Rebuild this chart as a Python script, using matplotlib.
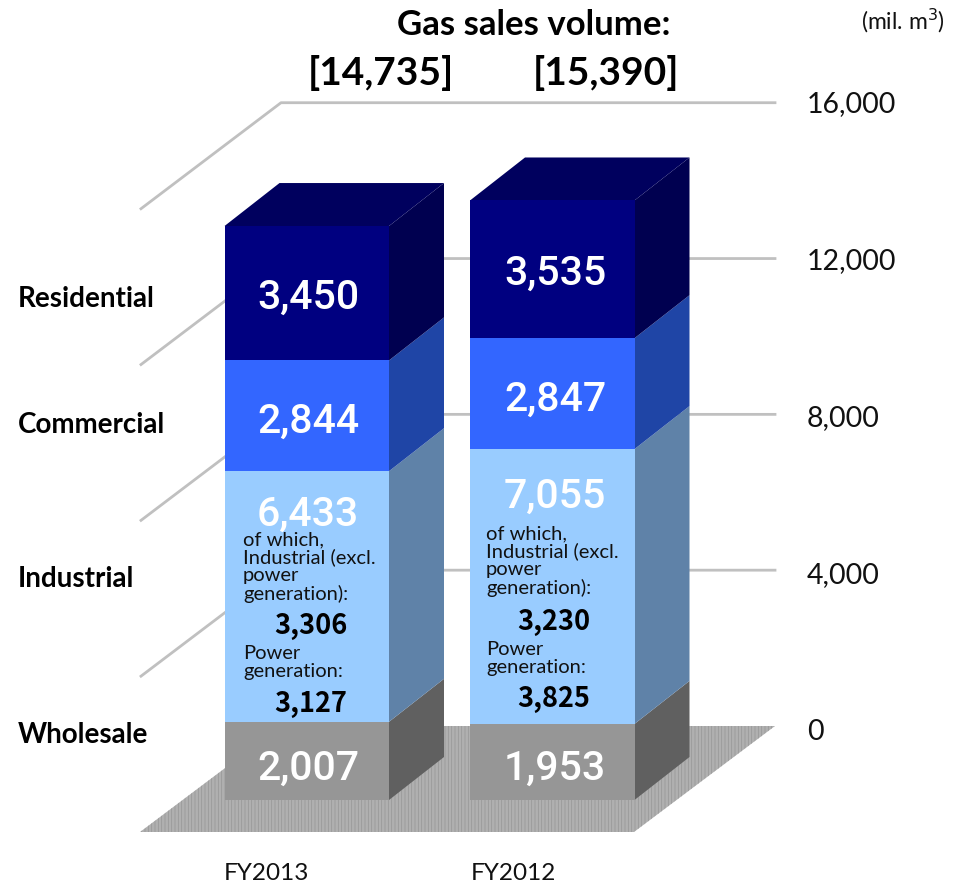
import matplotlib
matplotlib.use('Agg')
import matplotlib.pyplot as plt
import numpy as np

years = ['FY2013', 'FY2012']
segments = ['Wholesale', 'Industrial', 'Commercial', 'Residential']
wholesale = [2007, 1953]
industrial = [6433, 7055]
commercial = [2844, 2847]
residential = [3450, 3535]
industrial_excl = [3306, 3230]
power_gen = [3127, 3825]
totals = [14735, 15390]
ticks = [0, 4000, 8000, 12000, 16000]

front_colors = ['#969696', '#99CCFF', '#3366FF', '#000080']
side_colors = ['#606060', '#5F82A8', '#1F45A6', '#000050']
top_color = '#00005E'

W, H = 959, 885
base_px = 800
px_per_unit = 574 / 14735

plt.rcParams['font.family'] = ['Lato', 'DejaVu Sans']
plt.rcParams['hatch.linewidth'] = 0.5
fig = plt.figure(figsize=(W / 100, H / 100), dpi=100)
ax = fig.add_axes([0, 0, 1, 1])
ax.set_xlim(0, W)
ax.set_ylim(-(H - base_px) / px_per_unit, base_px / px_per_unit)
ax.axis('off')


def lift(px):
    return px / px_per_unit


def put(x, y, s, **kw):
    # text placed by pixel position from top left
    fig.text(x / W, 1 - y / H, s, **kw)


# floor and back grid
grid_lift = lift(74)
floor_front = -lift(32)
ax.fill([140, 634, 775, 281], [floor_front, floor_front, grid_lift, grid_lift],
        facecolor='#b0b0b0', edgecolor='#969696', hatch='|||||', lw=0, zorder=1)
for t in ticks[1:]:
    y = t + grid_lift
    ax.plot([141, 281, 775], [y - lift(106), y, y], color='#c0c0c0', lw=2, zorder=2)

# stacked boxes
bar_left = [224.5, 470]
bar_w = 164.5
depth_x = 55
depth_y = lift(43)
for i, left in enumerate(bar_left):
    vals = [wholesale[i], industrial[i], commercial[i], residential[i]]
    bottom = 0
    for v, fc, sc in zip(vals, front_colors, side_colors):
        ax.bar(left, v, bar_w, bottom=bottom, align='edge', color=fc, lw=0, zorder=4)
        r = left + bar_w
        ax.fill([r, r + depth_x, r + depth_x, r],
                [bottom, bottom + depth_y, bottom + v + depth_y, bottom + v],
                color=sc, lw=0, zorder=3)
        bottom += v
    ax.fill([left, left + bar_w, left + bar_w + depth_x, left + depth_x],
            [bottom, bottom, bottom + depth_y, bottom + depth_y],
            color=top_color, lw=0, zorder=3)

# white value labels
val_kw = dict(color='white', ha='center', va='center', fontsize=29.5, weight='medium',
              family=['Roboto', 'DejaVu Sans'], zorder=6)
label_y = [[769, 515, 422, 298], [769, 497, 400, 274]]
label_x = [308, 555]
for i in range(2):
    vals = [wholesale[i], industrial[i], commercial[i], residential[i]]
    for v, y in zip(vals, label_y[i]):
        put(label_x[i], y, f'{v:,}', **val_kw)

# breakdown inside the Industrial segment
note_x = [243, 486]
note_y = [531, 525]
power_y = [645, 641]
num_x = [311, 554]
excl_y = [626, 622]
power_num_y = [704, 699]
for i in range(2):
    put(note_x[i], note_y[i], 'of which,\nIndustrial (excl.\npower\ngeneration):', fontsize=14.5,
        color='#111111', va='top', ha='left', linespacing=1.05)
    put(note_x[i], power_y[i], 'Power\ngeneration:', fontsize=14.5,
        color='#111111', va='top', ha='left', linespacing=1.05)
    put(num_x[i], excl_y[i], f'{industrial_excl[i]:,}', fontsize=19.5, weight='bold',
        color='black', ha='center', va='center', family=['Noto Sans CJK JP', 'DejaVu Sans'])
    put(num_x[i], power_num_y[i], f'{power_gen[i]:,}', fontsize=19.5, weight='bold',
        color='black', ha='center', va='center', family=['Noto Sans CJK JP', 'DejaVu Sans'])

# left segment names
seg_y = [735, 579, 425, 299]
for name, y in zip(segments, seg_y):
    put(18, y, name, fontsize=20, weight='bold', va='center', color='black')

# right axis labels
for t in ticks:
    put(807, 732 - t * 0.03925, f'{t:,}', fontsize=20.5, va='center', color='#111111')

# x labels
for x, y in zip([266, 513], years):
    put(x, 873, y, fontsize=17.5, ha='center', va='center', color='#111111')

# header
put(534, 25, 'Gas sales volume:', fontsize=25, weight='bold', ha='center', va='center')
put(381, 73, f'[{totals[0]:,}]', fontsize=28, weight='bold', ha='center', va='center')
put(606, 73, f'[{totals[1]:,}]', fontsize=28, weight='bold', ha='center', va='center')
put(945, 21, '(mil. m$^3$)', fontsize=16.5, ha='right', va='center', color='#111111')

fig.savefig('out.png', dpi=100)
